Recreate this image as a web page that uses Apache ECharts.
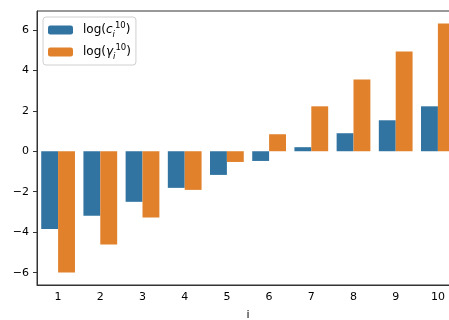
<!DOCTYPE html>
<html>
<head>
<meta charset="utf-8">
<script src="https://cdn.jsdelivr.net/npm/echarts@6/dist/echarts.min.js"></script>
<style>
  html, body { margin: 0; padding: 0; background: #fff; }
  #chart { width: 449px; height: 320px; }
</style>
</head>
<body>
<div id="chart"></div>
<script>
// values
var categories = ['1', '2', '3', '4', '5', '6', '7', '8', '9', '10'];
var logC = [-3.84, -3.19, -2.50, -1.81, -1.17, -0.48, 0.20, 0.89, 1.53, 2.22];
var logGamma = [-5.99, -4.61, -3.28, -1.91, -0.53, 0.84, 2.22, 3.55, 4.93, 6.31];
var yTicks = [-6, -4, -2, 0, 2, 4, 6];

var FONT = 'DejaVu Sans';

var legendRich = {
    gap: {width: 5, lineHeight: 18},
    n: {fontFamily: FONT, fontSize: 12, color: '#000', lineHeight: 18},
    it: {fontFamily: FONT, fontSize: 12, fontStyle: 'italic', color: '#000', lineHeight: 18},
    sub: {fontFamily: FONT, fontSize: 8.5, fontStyle: 'italic', color: '#000', verticalAlign: 'bottom', lineHeight: 18},
    sup: {fontFamily: FONT, fontSize: 8.5, color: '#000', verticalAlign: 'top', lineHeight: 18}
};

var fmtMinus = function (v) {
    return v < 0 ? '\u2212' + Math.abs(v) : String(v);
};

var option = {
    animation: false,
    backgroundColor: '#fff',
    textStyle: {fontFamily: FONT},
    grid: {
        left: 37,
        top: 11,
        width: 422,
        height: 274,
        containLabel: false,
        outerBoundsMode: 'none',
        show: true,
        borderColor: '#333',
        borderWidth: 1
    },
    legend: {
        orient: 'vertical',
        left: 43,
        top: 17,
        itemWidth: 25,
        itemHeight: 9,
        itemGap: 4,
        padding: [4, 5, 4, 5],
        borderColor: '#d0d0d0',
        borderWidth: 1,
        borderRadius: 3,
        backgroundColor: 'rgba(255,255,255,0.8)',
        data: ['c', 'gamma'],
        formatter: function (name) {
            if (name === 'c') {
                return '{gap|}{n|log(}{it|c}{sub|i}{sup|10}{n|)}';
            }
            return '{gap|}{n|log(}{it|\u03b3}{sub|i}{sup|10}{n|)}';
        },
        textStyle: {rich: legendRich}
    },
    xAxis: {
        type: 'category',
        data: categories,
        name: 'i',
        nameLocation: 'middle',
        nameGap: 25,
        nameTextStyle: {fontFamily: FONT, fontSize: 11, color: '#000'},
        axisLine: {onZero: false, lineStyle: {color: '#333', width: 1}},
        axisTick: {alignWithLabel: true, length: 4, lineStyle: {color: '#333'}},
        axisLabel: {fontFamily: FONT, fontSize: 11, color: '#000', margin: 7}
    },
    yAxis: {
        type: 'value',
        min: -6.61,
        max: 6.93,
        splitLine: {show: false},
        axisLine: {show: true, lineStyle: {color: '#333', width: 1}},
        axisTick: {show: true, length: 4, lineStyle: {color: '#333'}, customValues: yTicks},
        axisLabel: {
            fontFamily: FONT, fontSize: 11, color: '#000', margin: 8,
            customValues: yTicks,
            formatter: fmtMinus
        }
    },
    series: [
        {
            name: 'c',
            type: 'bar',
            data: logC,
            barGap: '0%',
            barCategoryGap: '20%',
            itemStyle: {color: '#3274a1'}
        },
        {
            name: 'gamma',
            type: 'bar',
            data: logGamma,
            barGap: '0%',
            barCategoryGap: '20%',
            itemStyle: {color: '#e1812c'}
        }
    ]
};

var chart = echarts.init(document.getElementById('chart'));
chart.setOption(option);
</script>
</body>
</html>
